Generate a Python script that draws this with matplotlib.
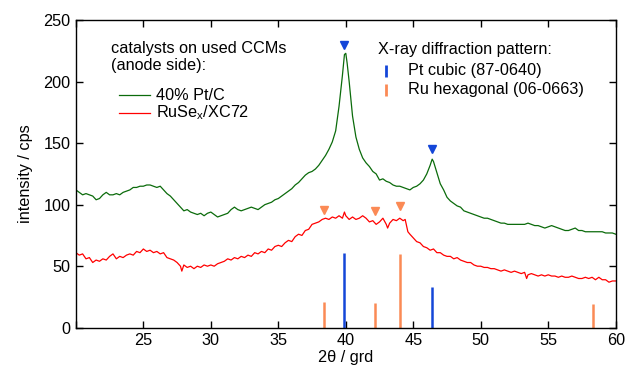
import numpy as np
import matplotlib
matplotlib.use('Agg')
import matplotlib.pyplot as plt

plt.rcParams['font.family'] = ['Liberation Sans', 'DejaVu Sans']
plt.rcParams['mathtext.fontset'] = 'custom'
plt.rcParams['mathtext.rm'] = 'Liberation Sans'

two_theta_pt = [20.0, 20.25, 20.5, 20.75, 21.0, 21.25, 21.5, 21.75, 22.0, 22.25,
                22.5, 22.75, 23.0, 23.25, 23.5, 23.75, 24.0, 24.25, 24.5, 24.75,
                25.0, 25.25, 25.5, 25.75, 26.0, 26.25, 26.5, 26.75, 27.0, 27.25,
                27.5, 27.75, 28.0, 28.25, 28.5, 28.75, 29.0, 29.25, 29.5, 29.75,
                30.0, 30.25, 30.5, 30.75, 31.0, 31.25, 31.5, 31.75, 32.0, 32.25,
                32.5, 32.75, 33.0, 33.25, 33.5, 33.75, 34.0, 34.25, 34.5, 34.75,
                35.0, 35.25, 35.5, 35.75, 36.0, 36.25, 36.5, 36.75, 37.0, 37.25,
                37.5, 37.75, 38.0, 38.25, 38.5, 38.75, 39.0, 39.25, 39.5, 39.75,
                39.9, 40.0, 40.1, 40.25, 40.5, 40.75, 41.0, 41.25, 41.5, 41.75,
                42.0, 42.25, 42.5, 42.75, 43.0, 43.25, 43.5, 43.75, 44.0, 44.25,
                44.5, 44.75, 45.0, 45.25, 45.5, 45.75, 46.0, 46.25, 46.4, 46.5,
                46.75, 47.0, 47.25, 47.5, 47.75, 48.0, 48.25, 48.5, 48.75, 49.0,
                49.25, 49.5, 49.75, 50.0, 50.25, 50.5, 50.75, 51.0, 51.25, 51.5,
                51.75, 52.0, 52.25, 52.5, 52.75, 53.0, 53.25, 53.5, 53.75, 54.0,
                54.25, 54.5, 54.75, 55.0, 55.25, 55.5, 55.75, 56.0, 56.25, 56.5,
                56.75, 57.0, 57.25, 57.5, 57.75, 58.0, 58.25, 58.5, 58.75, 59.0,
                59.25, 59.5, 59.75, 60.0]
intensity_pt = [112, 110, 108, 109, 108, 107, 104, 105, 108, 110,
                108, 108, 109, 108, 110, 111, 112, 114, 114, 115,
                115, 116, 116, 115, 114, 115, 112, 109, 107, 104,
                101, 98, 95, 96, 94, 93, 92, 93, 91, 93,
                94, 92, 90, 91, 92, 93, 96, 98, 96, 95,
                96, 97, 98, 97, 96, 98, 100, 101, 102, 104,
                105, 107, 109, 111, 113, 116, 118, 121, 124, 126,
                127, 129, 132, 136, 140, 145, 151, 160, 180, 205,
                222, 223, 215, 200, 172, 155, 145, 138, 134, 131,
                127, 125, 120, 121, 119, 118, 116, 115, 115, 114,
                113, 112, 114, 115, 117, 120, 125, 132, 137, 135,
                126, 117, 112, 106, 103, 101, 99, 98, 95, 94,
                93, 92, 91, 90, 89, 89, 88, 87, 86, 85,
                85, 84, 84, 84, 84, 84, 84, 85, 84, 83,
                83, 82, 81, 82, 83, 82, 81, 80, 79, 79,
                80, 81, 79, 79, 78, 78, 78, 78, 78, 78,
                77, 77, 77, 76]

two_theta_ru = [20.0, 20.25, 20.5, 20.75, 21.0, 21.25, 21.5, 21.75, 22.0, 22.25,
                22.5, 22.75, 23.0, 23.25, 23.5, 23.75, 24.0, 24.25, 24.5, 24.75,
                25.0, 25.25, 25.5, 25.75, 26.0, 26.25, 26.5, 26.75, 27.0, 27.25,
                27.5, 27.75, 27.85, 28.0, 28.25, 28.5, 28.75, 29.0, 29.25, 29.5,
                29.75, 30.0, 30.25, 30.5, 30.75, 31.0, 31.25, 31.5, 31.75, 32.0,
                32.25, 32.5, 32.75, 33.0, 33.25, 33.5, 33.75, 34.0, 34.25, 34.5,
                34.75, 35.0, 35.25, 35.5, 35.75, 36.0, 36.25, 36.5, 36.75, 37.0,
                37.25, 37.5, 37.75, 38.0, 38.25, 38.5, 38.75, 39.0, 39.25, 39.5,
                39.75, 39.9, 40.0, 40.25, 40.5, 40.75, 41.0, 41.25, 41.5, 41.75,
                42.0, 42.25, 42.5, 42.75, 43.0, 43.1, 43.25, 43.5, 43.75, 44.0,
                44.25, 44.4, 44.6, 44.75, 45.0, 45.25, 45.5, 45.75, 46.0, 46.25,
                46.5, 46.75, 47.0, 47.25, 47.5, 47.75, 48.0, 48.25, 48.5, 48.75,
                49.0, 49.25, 49.5, 49.75, 50.0, 50.25, 50.5, 50.75, 51.0, 51.25,
                51.5, 51.75, 52.0, 52.25, 52.5, 52.75, 53.0, 53.25, 53.4, 53.5,
                53.75, 54.0, 54.25, 54.5, 54.75, 55.0, 55.25, 55.5, 55.75, 56.0,
                56.25, 56.5, 56.75, 57.0, 57.25, 57.5, 57.75, 58.0, 58.25, 58.5,
                58.75, 59.0, 59.25, 59.5, 59.75, 60.0]
intensity_ru = [61, 59, 60, 56, 57, 53, 55, 54, 56, 55,
                58, 60, 56, 58, 57, 59, 60, 59, 62, 61,
                64, 62, 63, 61, 62, 60, 61, 57, 56, 55,
                53, 50, 46, 51, 49, 50, 48, 50, 49, 51,
                50, 51, 50, 52, 53, 54, 56, 55, 57, 56,
                58, 57, 59, 58, 61, 60, 62, 61, 64, 63,
                66, 67, 66, 69, 71, 70, 74, 76, 75, 79,
                80, 84, 85, 86, 88, 89, 88, 90, 89, 91,
                89, 94, 91, 88, 90, 88, 89, 91, 89, 86,
                87, 84, 86, 89, 84, 81, 85, 88, 87, 89,
                87, 88, 78, 76, 73, 70, 69, 66, 65, 63,
                64, 61, 61, 59, 58, 58, 56, 57, 55, 54,
                53, 53, 51, 50, 50, 49, 49, 48, 48, 47,
                46, 47, 46, 45, 46, 45, 44, 45, 40, 43,
                44, 43, 42, 43, 42, 43, 42, 42, 41, 42,
                41, 41, 42, 41, 40, 40, 41, 40, 41, 39,
                41, 39, 39, 37, 38, 38]

# reference patterns (stick positions and heights)
pt_ref_pos = [39.85, 46.4]
pt_ref_int = [61, 33]
ru_ref_pos = [38.37, 42.17, 44.0, 58.3]
ru_ref_int = [21, 20, 60, 19]

# reflection markers
pt_mark_pos = [39.85, 46.4]
pt_mark_int = [230, 145]
ru_mark_pos = [38.37, 42.17, 44.0]
ru_mark_int = [96, 95, 99]

green = '#0b6b0b'
red = '#ff0000'
blue = '#1446d8'
orange = '#fb8a55'

fig = plt.figure(figsize=(6.27, 3.72), dpi=100)
ax = fig.add_axes([0.121, 0.119, 0.861, 0.827])

ax.plot(two_theta_pt, intensity_pt, color=green, lw=0.9)
ax.plot(two_theta_ru, intensity_ru, color=red, lw=0.9)

ax.vlines(pt_ref_pos, 0, pt_ref_int, color=blue, lw=1.8)
ax.vlines(ru_ref_pos, 0, ru_ref_int, color=orange, lw=1.8)

ax.plot(pt_mark_pos, pt_mark_int, 'v', color=blue, ms=5.5, ls='none')
ax.plot(ru_mark_pos, ru_mark_int, 'v', color=orange, ms=6, ls='none')

fs = 11.7
ax.set_xlim(20, 60)
ax.set_ylim(0, 250)
ax.set_xticks([20, 25, 30, 35, 40, 45, 50, 55, 60])
ax.set_xticklabels(['', '25', '30', '35', '40', '45', '50', '55', '60'])
ax.set_yticks([0, 50, 100, 150, 200, 250])
ax.tick_params(direction='in', length=5, width=1, top=True, right=True,
               labelsize=fs, pad=4)
for s in ax.spines.values():
    s.set_linewidth(1)

ax.set_xlabel('2θ / grd', fontsize=fs, labelpad=1)
ax.set_ylabel('intensity / cps', fontsize=fs, labelpad=7)

# left legend
ax.text(0.066, 0.909, 'catalysts on used CCMs', transform=ax.transAxes,
        fontsize=fs, va='center', ha='left')
ax.text(0.066, 0.854, '(anode side):', transform=ax.transAxes,
        fontsize=fs, va='center', ha='left')
ax.plot([0.080, 0.137], [0.756, 0.756], color=green, lw=0.9, transform=ax.transAxes)
ax.plot([0.080, 0.137], [0.698, 0.698], color=red, lw=0.9, transform=ax.transAxes)
ax.text(0.149, 0.756, '40% Pt/C', transform=ax.transAxes, fontsize=fs, va='center')
ax.text(0.149, 0.698, r'RuSe$_\mathrm{x}$/XC72', transform=ax.transAxes,
        fontsize=fs, va='center')

# right legend
ax.text(0.560, 0.906, 'X-ray diffraction pattern:', transform=ax.transAxes,
        fontsize=fs, va='center')
ax.plot([0.574], [0.835], '|', color=blue, ms=8, mew=2, transform=ax.transAxes)
ax.plot([0.574], [0.773], '|', color=orange, ms=8, mew=2, transform=ax.transAxes)
ax.text(0.615, 0.835, 'Pt cubic (87-0640)', transform=ax.transAxes, fontsize=fs, va='center')
ax.text(0.615, 0.773, 'Ru hexagonal (06-0663)', transform=ax.transAxes, fontsize=fs, va='center')

fig.savefig('out.png', dpi=100)
